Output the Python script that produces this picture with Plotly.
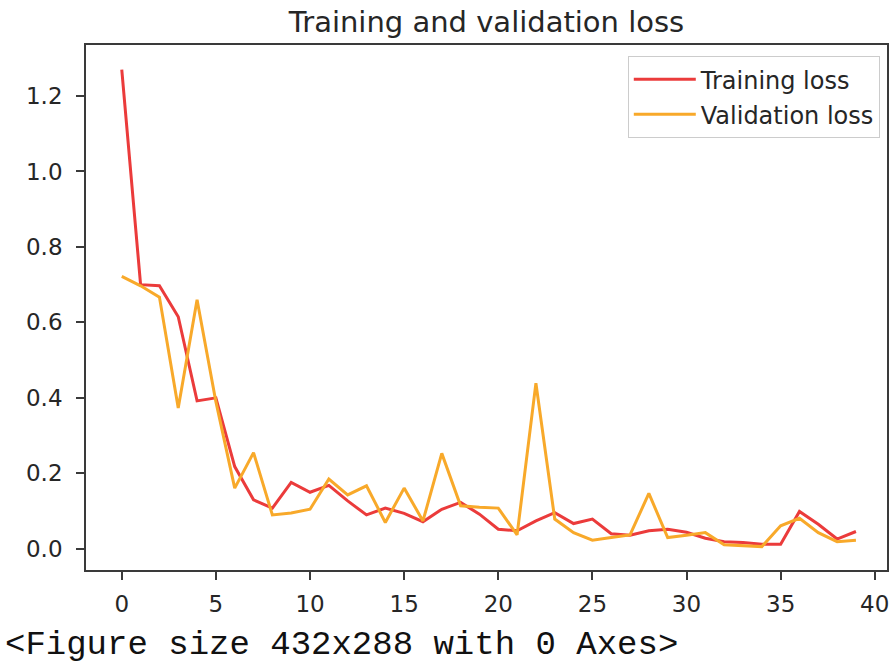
import plotly.graph_objects as go

# ---------------------------------------------------------------------------
# Data
# ---------------------------------------------------------------------------
epochs = list(range(40))

training_loss = [
    1.27, 0.70, 0.697, 0.615, 0.392, 0.40, 0.218, 0.13, 0.108, 0.176,
    0.15, 0.168, 0.127, 0.09, 0.108, 0.094, 0.072, 0.105, 0.123, 0.092,
    0.052, 0.048, 0.074, 0.096, 0.067, 0.079, 0.04, 0.036, 0.048, 0.052,
    0.044, 0.028, 0.019, 0.017, 0.012, 0.012, 0.099, 0.065, 0.026, 0.046,
]

validation_loss = [
    0.722, 0.697, 0.667, 0.373, 0.66, 0.39, 0.161, 0.255, 0.09, 0.095,
    0.105, 0.185, 0.143, 0.167, 0.07, 0.161, 0.074, 0.253, 0.114, 0.11,
    0.108, 0.037, 0.439, 0.079, 0.043, 0.023, 0.03, 0.037, 0.147, 0.03,
    0.036, 0.043, 0.011, 0.008, 0.006, 0.061, 0.081, 0.043, 0.019, 0.023,
]

x_ticks = [0, 5, 10, 15, 20, 25, 30, 35, 40]
y_ticks = [0.0, 0.2, 0.4, 0.6, 0.8, 1.0, 1.2]

RED = "#eb3b3b"
ORANGE = "#f8a92a"
AXIS = "#3a3a3a"
FONT = "DejaVu Sans"

fig = go.Figure()
fig.add_trace(go.Scatter(
    x=epochs, y=training_loss, mode="lines", name="Training loss",
    line=dict(color=RED, width=3), legendgroup="a",
))
fig.add_trace(go.Scatter(
    x=epochs, y=validation_loss, mode="lines", name="Validation loss",
    line=dict(color=ORANGE, width=3), legendgroup="b",
))

axis_common = dict(
    showline=True, mirror=True, linecolor=AXIS, linewidth=1.7,
    ticks="outside", ticklen=8, tickwidth=1.7, tickcolor=AXIS,
    showgrid=False, zeroline=False, automargin=False,
    ticklabeloverflow="allow",
    tickfont=dict(family=FONT, size=23, color="#262626"),
)

fig.update_xaxes(range=[-1.9, 40.65], tickvals=x_ticks,
                 ticklabelstandoff=5, **axis_common)
fig.update_yaxes(range=[-0.056, 1.335], tickvals=y_ticks,
                 tickformat=".1f", ticklabelstandoff=9, **axis_common)

fig.update_layout(
    width=889, height=668,
    margin=dict(l=86, r=2, t=45, b=98),
    plot_bgcolor="white", paper_bgcolor="white",
    title=dict(
        text="Training and validation loss",
        x=0.5, xref="paper", xanchor="center",
        y=1 - 22 / 668, yref="container", yanchor="middle",
        font=dict(family=FONT, size=29, color="#262626"),
        automargin=False,
    ),
    legend=dict(
        x=0.991, y=0.979, xanchor="right", yanchor="top",
        bgcolor="rgba(255,255,255,0.8)", bordercolor="#cccccc", borderwidth=1,
        font=dict(family=FONT, size=24, color="#262626"),
        tracegroupgap=1, itemwidth=62,
    ),
    showlegend=True,
)

fig.add_annotation(
    text="<Figure size 432x288 with 0 Axes>",
    xref="paper", yref="paper",
    x=(3 - 86) / 801, y=(570 - 645) / 525,
    xanchor="left", yanchor="middle", showarrow=False,
    font=dict(family="Courier New, Liberation Mono, monospace",
              size=34, color="#111111"),
)

# the page's default body margin would push the figure 8px down/right
fig.write_html(
    "out.html",
    config={"displayModeBar": False},
    post_script="document.body.style.margin='0';",
)
